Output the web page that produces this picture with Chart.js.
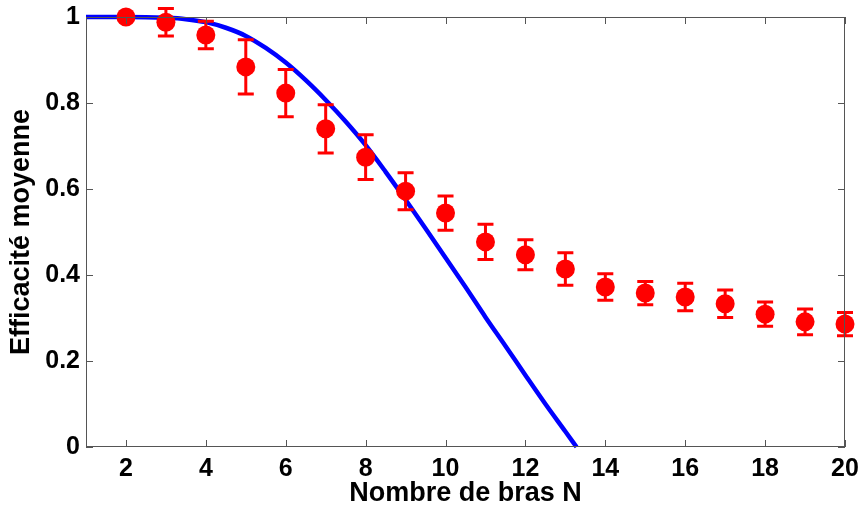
<!DOCTYPE html>
<html>
<head>
<meta charset="utf-8">
<script src="https://cdn.jsdelivr.net/npm/chart.js@4/dist/chart.umd.min.js"></script>
<style>
  html, body { margin: 0; padding: 0; background: #fff; }
  canvas { display: block; }
</style>
</head>
<body>
<canvas id="effChart" width="861" height="510"></canvas>
<script>
// measured points (red) with error bars
const nValues = [2, 3, 4, 5, 6, 7, 8, 9, 10, 11, 12, 13, 14, 15, 16, 17, 18, 19, 20];
const meanEff = [1.0, 0.988, 0.958, 0.884, 0.823, 0.740, 0.674, 0.595, 0.544, 0.477, 0.447, 0.414, 0.372, 0.358, 0.349, 0.333, 0.309, 0.291, 0.286];
const errEff  = [0.0, 0.032, 0.032, 0.063, 0.055, 0.056, 0.052, 0.043, 0.040, 0.041, 0.035, 0.038, 0.031, 0.027, 0.032, 0.032, 0.028, 0.030, 0.027];

// model curve (blue)
const modelN   = [1, 2, 3, 3.5, 4, 4.5, 5, 5.5, 6, 6.5, 7, 7.5, 8, 8.5, 9, 9.5, 10, 10.5, 11, 11.5, 12, 12.5, 13, 13.28];
const modelEff = [1.0, 1.0, 0.998, 0.995, 0.988, 0.975, 0.956, 0.928, 0.894, 0.853, 0.807, 0.757, 0.702, 0.640, 0.575, 0.508, 0.440, 0.372, 0.302, 0.235, 0.167, 0.100, 0.036, 0.0];

const xTicks = [2, 4, 6, 8, 10, 12, 14, 16, 18, 20];
const yTicks = [0, 0.2, 0.4, 0.6, 0.8, 1];

const axisColor = "#555";
const tickFont = { family: "'Liberation Sans', Arial, sans-serif", size: 25, weight: "bold" };
const titleFont = { family: "'Liberation Sans', Arial, sans-serif", size: 27, weight: "bold" };

// error bars, drawn just before the red markers
const errorBars = {
    id: "errorBars",
    beforeDatasetDraw(chart, args) {
        if (args.index !== 0) return;
        const ctx = chart.ctx;
        const xs = chart.scales.x, ys = chart.scales.y;
        ctx.save();
        ctx.strokeStyle = "#ff0000";
        ctx.lineWidth = 3;
        nValues.forEach((n, i) => {
            if (!errEff[i]) return;
            const px = xs.getPixelForValue(n);
            const top = ys.getPixelForValue(meanEff[i] + errEff[i]);
            const bot = ys.getPixelForValue(meanEff[i] - errEff[i]);
            ctx.beginPath();
            ctx.moveTo(px, top); ctx.lineTo(px, bot);
            ctx.moveTo(px - 8, top); ctx.lineTo(px + 8, top);
            ctx.moveTo(px - 8, bot); ctx.lineTo(px + 8, bot);
            ctx.stroke();
        });
        ctx.restore();
    }
};

// box around the plot with inward ticks on all four sides
const axesBox = {
    id: "axesBox",
    afterDraw(chart) {
        const ctx = chart.ctx;
        const a = chart.chartArea;
        const xs = chart.scales.x, ys = chart.scales.y;
        const len = 7;
        ctx.save();
        ctx.strokeStyle = axisColor;
        ctx.lineWidth = 1;
        ctx.strokeRect(a.left + 0.5, a.top + 0.5, a.right - a.left - 1, a.bottom - a.top - 1);
        ctx.beginPath();
        xTicks.forEach(v => {
            const px = Math.round(xs.getPixelForValue(v)) + 0.5;
            ctx.moveTo(px, a.bottom); ctx.lineTo(px, a.bottom - len);
            ctx.moveTo(px, a.top); ctx.lineTo(px, a.top + len);
        });
        yTicks.forEach(v => {
            const py = Math.round(ys.getPixelForValue(v)) + 0.5;
            ctx.moveTo(a.left, py); ctx.lineTo(a.left + len, py);
            ctx.moveTo(a.right, py); ctx.lineTo(a.right - len, py);
        });
        ctx.stroke();
        ctx.restore();
    }
};

new Chart(document.getElementById("effChart"), {
    type: "scatter",
    data: {
        datasets: [{
            label: "Mesures",
            data: nValues.map((n, i) => ({ x: n, y: meanEff[i] })),
            backgroundColor: "#ff0000",
            borderColor: "#ff0000",
            pointRadius: 9.5,
            pointBorderWidth: 0,
            clip: false,
            order: 0
        }, {
            label: "Modèle",
            data: modelN.map((n, i) => ({ x: n, y: modelEff[i] })),
            showLine: true,
            borderColor: "#0000ff",
            borderWidth: 4.5,
            pointRadius: 0,
            cubicInterpolationMode: "monotone",
            clip: false,
            order: 1
        }]
    },
    options: {
        responsive: false,
        animation: false,
        layout: { padding: { left: 0, right: 16, top: 17, bottom: 0 } },
        plugins: {
            legend: { display: false },
            tooltip: { enabled: false }
        },
        scales: {
            x: {
                type: "linear",
                min: 1,
                max: 20,
                afterBuildTicks: axis => { axis.ticks = xTicks.map(v => ({ value: v })); },
                afterFit: scale => {
                    scale.height = 63;
                    scale.paddingLeft = 0;
                    scale.paddingRight = 0;
                },
                grid: { display: false, drawTicks: false, tickLength: 0 },
                border: { display: false },
                ticks: { color: "#000", font: tickFont, padding: 7, maxRotation: 0 },
                title: { display: true, text: "Nombre de bras N", color: "#000", font: titleFont, padding: { top: 0, bottom: 0 } }
            },
            y: {
                min: 0,
                max: 1,
                afterBuildTicks: axis => { axis.ticks = yTicks.map(v => ({ value: v })); },
                afterFit: scale => {
                    scale.width = 86;
                    scale.paddingTop = 0;
                    scale.paddingBottom = 0;
                },
                grid: { display: false, drawTicks: false, tickLength: 0 },
                border: { display: false },
                ticks: { color: "#000", font: tickFont, padding: 6, callback: v => String(+v.toFixed(1)) },
                title: { display: true, text: "Efficacité moyenne", color: "#000", font: titleFont, padding: { top: 5, bottom: 0 } }
            }
        }
    },
    plugins: [errorBars, axesBox]
});
</script>
</body>
</html>
